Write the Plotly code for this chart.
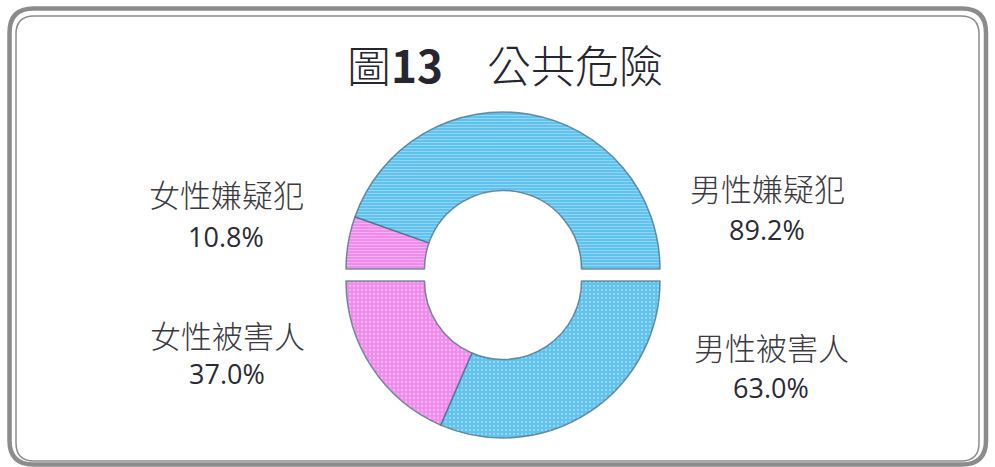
import plotly.graph_objects as go

# 資料
suspect_labels = ["女性嫌疑犯", "男性嫌疑犯"]
suspect_values = [10.8, 89.2]
victim_labels = ["男性被害人", "女性被害人"]
victim_values = [63.0, 37.0]
title_text = "圖<b>13</b>　公共危險"

W, H = 995, 467
BLUE = "#60C2EE"
PINK = "#F08CEC"
EDGE = "rgba(70,110,130,0.75)"
NONE = "rgba(0,0,0,0)"
CJK = "Noto Sans CJK TC"
NUM = "Open Sans"


def px(x):
    return x / W


def py(y):
    return 1 - y / H


def rounded_rect(x0, y0, x1, y1, r):
    # 圓角矩形 (像素座標轉 paper 座標)
    pts = [
        ("M", x0 + r, y0), ("L", x1 - r, y0), ("Q", x1, y0, x1, y0 + r),
        ("L", x1, y1 - r), ("Q", x1, y1, x1 - r, y1),
        ("L", x0 + r, y1), ("Q", x0, y1, x0, y1 - r),
        ("L", x0, y0 + r), ("Q", x0, y0, x0 + r, y0),
    ]
    out = []
    for p in pts:
        cmd, vals = p[0], p[1:]
        coords = []
        for i in range(0, len(vals), 2):
            coords.append(f"{px(vals[i]):.5f},{py(vals[i + 1]):.5f}")
        out.append(cmd + " " + " ".join(coords))
    return " ".join(out) + " Z"


R = 157
cx = 503
top_cy, bot_cy = 269, 281


def domain(cy):
    return dict(x=[px(cx - R), px(cx + R)], y=[py(cy + R), py(cy - R)])


def color_of(label):
    return PINK if label.startswith("女") else BLUE


fig = go.Figure()

# 上半圓：嫌疑犯 (從 9 點鐘方向順時針)
top_colors = [color_of(l) for l in suspect_labels] + [NONE]
fig.add_trace(go.Pie(
    labels=suspect_labels + ["_"],
    values=suspect_values + [sum(suspect_values)],
    hole=0.5,
    sort=False,
    direction="clockwise",
    rotation=-90,
    textinfo="none",
    hoverinfo="skip",
    showlegend=False,
    domain=domain(top_cy),
    marker=dict(
        colors=top_colors,
        line=dict(color=[EDGE, EDGE, NONE], width=1.5),
        pattern=dict(shape=["-", "-", ""], bgcolor=top_colors,
                     fgcolor="rgba(255,255,255,0.35)", size=3, solidity=0.3),
    ),
))

# 下半圓：被害人 (從 3 點鐘方向順時針)
bot_colors = [color_of(l) for l in victim_labels] + [NONE]
fig.add_trace(go.Pie(
    labels=victim_labels + ["_"],
    values=victim_values + [sum(victim_values)],
    hole=0.5,
    sort=False,
    direction="clockwise",
    rotation=90,
    textinfo="none",
    hoverinfo="skip",
    showlegend=False,
    domain=domain(bot_cy),
    marker=dict(
        colors=bot_colors,
        line=dict(color=[EDGE, EDGE, NONE], width=1.5),
        pattern=dict(shape=[".", ".", ""], bgcolor=bot_colors,
                     fgcolor="rgba(255,255,255,0.35)", size=4, solidity=0.25),
    ),
))

# 標籤位置 (像素)
label_pos = {
    "女性嫌疑犯": (226, 193, 237),
    "男性嫌疑犯": (767, 188, 230),
    "女性被害人": (227, 334, 373),
    "男性被害人": (771, 346, 387),
}

annotations = [dict(
    x=px(505), y=py(64), xref="paper", yref="paper",
    xanchor="center", yanchor="middle",
    text=title_text, showarrow=False,
    font=dict(family=CJK, size=44, color="#262630", weight=300),
)]
for labels, values in [(suspect_labels, suspect_values), (victim_labels, victim_values)]:
    for lab, val in zip(labels, values):
        lx, ly, vy = label_pos[lab]
        annotations.append(dict(
            x=px(lx), y=py(ly), xref="paper", yref="paper", text=lab,
            xanchor="center", yanchor="middle", showarrow=False,
            font=dict(family=CJK, size=31, color="#3a3a40", weight=300),
        ))
        annotations.append(dict(
            x=px(lx), y=py(vy), xref="paper", yref="paper", text=f"{val:.1f}%",
            xanchor="center", yanchor="middle", showarrow=False,
            font=dict(family=NUM, size=27, color="#2a2a35"),
        ))

shapes = [
    dict(type="path", xref="paper", yref="paper",
         path=rounded_rect(9.5, 8.5, 986, 464.5, 24),
         line=dict(color="#8c8c8c", width=4.5)),
    dict(type="path", xref="paper", yref="paper",
         path=rounded_rect(16, 16, 979, 461, 18),
         line=dict(color="#8c8c8c", width=1.5)),
]

fig.update_layout(
    width=W, height=H,
    margin=dict(l=0, r=0, t=0, b=0),
    paper_bgcolor="white",
    plot_bgcolor="white",
    annotations=annotations,
    shapes=shapes,
)

fig.write_html("out.html", config={"displayModeBar": False},
               post_script="document.body.style.margin='0';")
